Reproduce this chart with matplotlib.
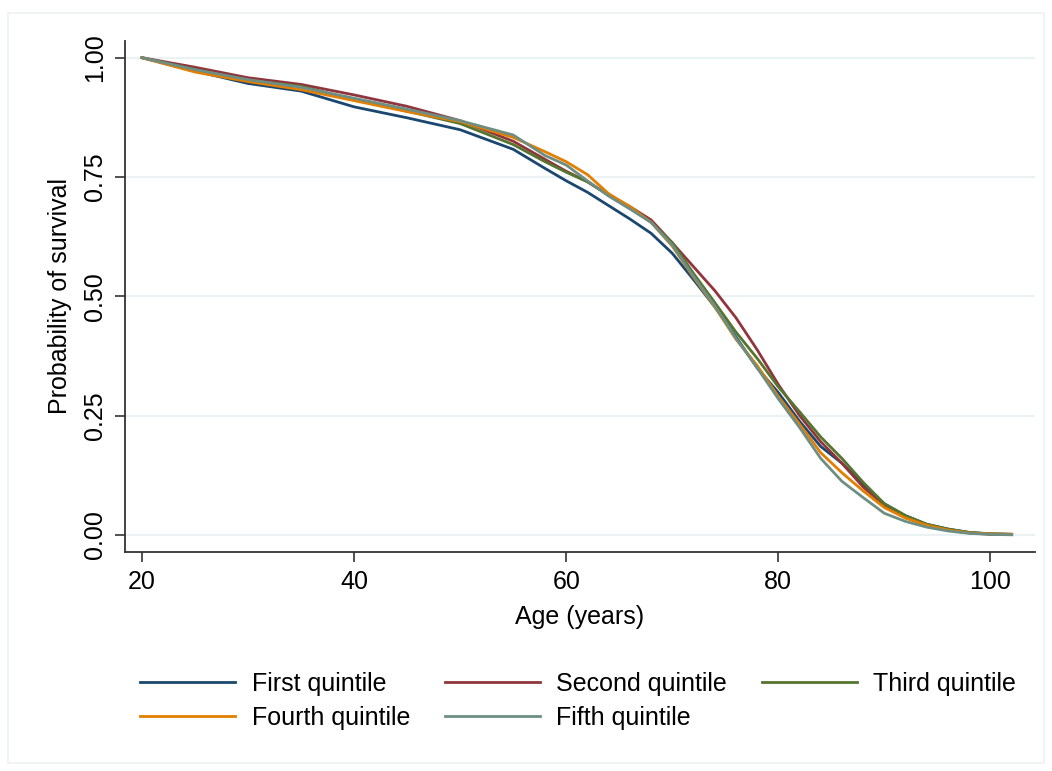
import matplotlib
matplotlib.use("Agg")
import matplotlib.pyplot as plt
from matplotlib.patches import Rectangle

plt.rcParams['font.family'] = ['Liberation Sans', 'DejaVu Sans']

age = [20, 25, 30, 35, 40, 45, 50, 55, 58, 60, 62, 64, 66, 68, 70, 72, 74, 76,
       78, 80, 82, 84, 86, 88, 90, 92, 94, 96, 98, 100, 102]

first = [1.000, 0.972, 0.946, 0.930, 0.897, 0.874, 0.849, 0.808, 0.768, 0.742,
         0.718, 0.690, 0.662, 0.632, 0.590, 0.535, 0.478, 0.415, 0.350, 0.298,
         0.238, 0.185, 0.150, 0.105, 0.065, 0.040, 0.022, 0.012, 0.005, 0.002, 0.001]
second = [1.000, 0.980, 0.958, 0.944, 0.922, 0.898, 0.868, 0.825, 0.787, 0.762,
          0.740, 0.712, 0.688, 0.660, 0.612, 0.562, 0.512, 0.455, 0.388, 0.315,
          0.250, 0.195, 0.150, 0.100, 0.062, 0.036, 0.020, 0.010, 0.004, 0.001, 0.001]
third = [1.000, 0.975, 0.953, 0.940, 0.912, 0.888, 0.862, 0.818, 0.782, 0.760,
         0.740, 0.712, 0.685, 0.655, 0.612, 0.548, 0.487, 0.425, 0.370, 0.310,
         0.258, 0.205, 0.160, 0.110, 0.065, 0.040, 0.022, 0.012, 0.005, 0.002, 0.001]
fourth = [1.000, 0.970, 0.950, 0.933, 0.910, 0.887, 0.866, 0.833, 0.803, 0.782,
          0.755, 0.715, 0.688, 0.655, 0.605, 0.540, 0.478, 0.410, 0.355, 0.290,
          0.232, 0.172, 0.130, 0.092, 0.057, 0.035, 0.020, 0.010, 0.004, 0.002, 0.001]
fifth = [1.000, 0.975, 0.954, 0.938, 0.915, 0.892, 0.868, 0.838, 0.795, 0.775,
         0.742, 0.710, 0.683, 0.655, 0.607, 0.542, 0.480, 0.412, 0.350, 0.285,
         0.225, 0.160, 0.112, 0.078, 0.045, 0.028, 0.016, 0.008, 0.003, 0.001, 0.000]

labels = ["First quintile", "Second quintile", "Third quintile",
          "Fourth quintile", "Fifth quintile"]
colors = ["#1A476F", "#90353B", "#55752F", "#E37E00", "#6E8E84"]

fig = plt.figure(figsize=(10.52, 7.71), dpi=100)
fig.patches.append(Rectangle((8 / 1052, 8 / 771), 1036 / 1052, 750 / 771,
                             transform=fig.transFigure, fill=False,
                             edgecolor="#EEF1F1", lw=1.2))
ax = fig.add_axes([125 / 1052, (771 - 551.5) / 771, 910 / 1052, 510.5 / 771])

lines = []
for ys, lab, col in zip([first, second, third, fourth, fifth], labels, colors):
    ln, = ax.plot(age, ys, color=col, lw=2.0, label=lab)
    lines.append(ln)

ax.set_xlim(18.4, 104.2)
ax.set_ylim(-0.035, 1.035)
ax.set_xticks([20, 40, 60, 80, 100])
ax.set_yticks([0, 0.25, 0.5, 0.75, 1.0])
ax.set_yticklabels(["0.00", "0.25", "0.50", "0.75", "1.00"], rotation=90, va="center")
ax.grid(axis="y", color="#EAF2F3", lw=1.6)
ax.set_axisbelow(True)
for s in ["top", "right"]:
    ax.spines[s].set_visible(False)
for s in ["left", "bottom"]:
    ax.spines[s].set_color("#333333")
    ax.spines[s].set_linewidth(1.3)
ax.tick_params(labelsize=18, length=7, width=1.2, color="#333333", pad=6)
ax.set_xlabel("Age (years)", fontsize=18, labelpad=8)
ax.set_ylabel("Probability of survival", fontsize=18, labelpad=8)

order = [0, 3, 1, 4, 2]
ax.legend([lines[i] for i in order], [labels[i] for i in order],
          ncol=3, loc="upper center", bbox_to_anchor=(0.498, -0.192),
          frameon=False, fontsize=18, handlelength=3.8, handletextpad=0.65,
          columnspacing=1.4, labelspacing=0.4)

fig.savefig("out.png", dpi=100)
